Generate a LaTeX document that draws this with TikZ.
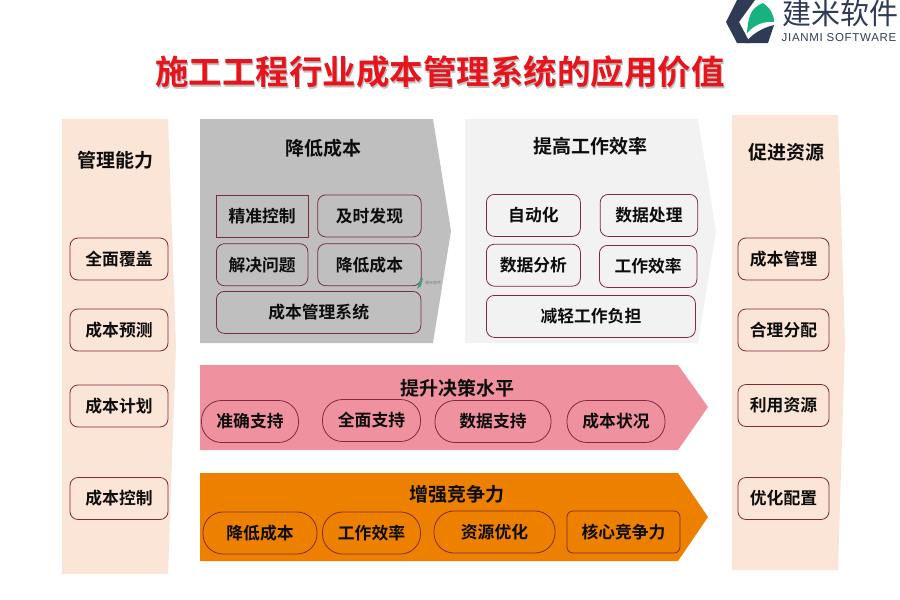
\documentclass[tikz,border=0pt]{standalone}
\usepackage{fontspec}
\setmainfont{Noto Sans CJK SC}[BoldFont={Noto Sans CJK SC Bold}]
\newfontfamily\logolatin[LetterSpace=6]{Liberation Sans}
\usepackage{xcolor}
\usetikzlibrary{positioning}
\definecolor{peachbg}{HTML}{FBE5D6}
\definecolor{greybg}{HTML}{BFBFBF}
\definecolor{lightbg}{HTML}{F2F2F2}
\definecolor{pinkbg}{HTML}{EF919F}
\definecolor{orangebg}{HTML}{EE8000}
\definecolor{boxline}{HTML}{7E2B3C}
\definecolor{logodark}{HTML}{2F3B55}
\definecolor{logogreen}{HTML}{17B27F}
\definecolor{titlered}{HTML}{E8141C}

\begin{document}
\begin{tikzpicture}[
  x=1pt,y=-1pt,
  node distance=6pt and 9pt,
  head/.style ={font=\fontsize{19}{21}\selectfont\bfseries,inner sep=0pt,text=black!95},
  box/.style  ={draw=boxline,line width=0.8pt,rounded corners=8pt,align=center,inner sep=0pt,
                font=\fontsize{16.8}{19}\selectfont\bfseries,text=black!95,minimum height=42pt},
  sidebox/.style={box,minimum width=98pt},
  rbox/.style ={box,minimum width=91pt},
  pill/.style ={box,rounded corners=20pt},
  ttl/.style  ={font=\fontsize{33.5}{36}\selectfont\bfseries,inner sep=0pt}]
\useasboundingbox (0,0) rectangle (900,600);

%---------------- Title and logo ----------------
\node[ttl,text=black!25] (ttlsh) at (441,73.5) {施工工程行业成本管理系统的应用价值};
\node[ttl,text=titlered] (ttl) at (440,72) {施工工程行业成本管理系统的应用价值};
\fill[logodark] (737,0) -- (755,0) -- (739,22) -- (750,43) -- (737,43) -- (726,22) -- cycle;
\fill[logogreen] (747,33) .. controls (748,18) and (750,8) .. (763,3) .. controls (770,8) and (774,14) .. (774,22) .. controls (765,21) and (755,24) .. cycle;
\fill[logodark] (745,43) .. controls (752,34) and (762,28) .. (774,25) -- (768,43) -- cycle;
\node[font=\fontsize{29}{31}\selectfont,text=logodark,inner sep=0pt] (logocn) at (840,13) {建米软件};
\node[font=\logolatin\fontsize{11.5}{12}\selectfont,text=logodark,inner sep=0pt] (logoen) at (839,38) {JIANMI SOFTWARE};

%---------------- Panels ----------------
\fill[peachbg] (62,119) -- (168,119) -- (176,346) -- (168,574) -- (62,574) -- cycle;
\fill[peachbg] (732,115) -- (838,115) -- (845,342) -- (838,570) -- (732,570) -- cycle;
\fill[greybg] (200,119) -- (433,119) -- (451,231) -- (433,343) -- (200,343) -- cycle;
\fill[lightbg] (465,119) -- (698,119) -- (716,231) -- (698,343) -- (465,343) -- cycle;
\fill[pinkbg] (200,365) -- (678,365) -- (708,407) -- (678,450) -- (200,450) -- cycle;
\fill[orangebg] (200,473) -- (678,473) -- (708,517) -- (678,561) -- (200,561) -- cycle;

%---------------- Left column ----------------
\node[head] (mgmt) at (115,160) {管理能力};
\node[sidebox] (l1) at (119,259) {全面覆盖};
\node[sidebox] (l2) at (119,330) {成本预测};
\node[sidebox] (l3) at (119,406) {成本计划};
\node[sidebox] (l4) at (119,498.5) {成本控制};

%---------------- Right column ----------------
\node[head] (res) at (786,152) {促进资源};
\node[rbox] (r1) at (783.5,259) {成本管理};
\node[rbox] (r2) at (783.5,330) {合理分配};
\node[rbox] (r3) at (783.5,405.5) {利用资源};
\node[rbox] (r4) at (783.5,498.5) {优化配置};

%---------------- Grey block ----------------
\node[head] (cost) at (323,148) {降低成本};
\node[box,minimum width=91.5pt,sharp corners,anchor=north west] (g1) at (216,194.5) {精准控制};
\node[box,minimum width=103.5pt,right=of g1] (g2) {及时发现};
\node[box,minimum width=91.5pt,below=of g1] (g3) {解决问题};
\node[box,minimum width=103.5pt,right=of g3] (g4) {降低成本};
\node[box,minimum width=204.5pt,anchor=north west] (g5) at (216,291) {成本管理系统};
\node[font=\fontsize{4}{5}\selectfont,text=gray,inner sep=0pt] (wmark) at (433,283) {建米软件};
\fill[logogreen!60!gray] (417,289) -- (420,280) -- (423,278) -- (421,286) -- cycle;

%---------------- Light block ----------------
\node[head] (eff) at (590,146) {提高工作效率};
\node[box,minimum width=94pt,anchor=north west] (w1) at (486,194) {自动化};
\node[box,minimum width=97.5pt,right=19pt of w1] (w2) {数据处理};
\node[box,minimum width=94pt,below=7pt of w1] (w3) {数据分析};
\node[box,minimum width=97.5pt,anchor=north west] (w4) at (599,245) {工作效率};
\node[box,minimum width=209pt,anchor=north west] (w5) at (486,295) {减轻工作负担};

%---------------- Pink arrow ----------------
\node[head] (dec) at (457,388) {提升决策水平};
\node[pill,minimum width=97pt] (p1) at (250,421.5) {准确支持};
\node[pill,minimum width=98pt] (p2) at (371.5,420.5) {全面支持};
\node[pill,minimum width=116pt] (p3) at (493,421.5) {数据支持};
\node[pill,minimum width=98pt] (p4) at (616,421.5) {成本状况};

%---------------- Orange arrow ----------------
\node[head] (comp) at (457,494) {增强竞争力};
\node[pill,minimum width=114pt] (o1) at (260,533) {降低成本};
\node[pill,minimum width=98pt] (o2) at (371.5,533) {工作效率};
\node[pill,minimum width=121pt] (o3) at (494.5,532) {资源优化};
\node[box,minimum width=113pt,rounded corners=6pt] (o4) at (623.5,532) {核心竞争力};

\end{tikzpicture}
\end{document}
